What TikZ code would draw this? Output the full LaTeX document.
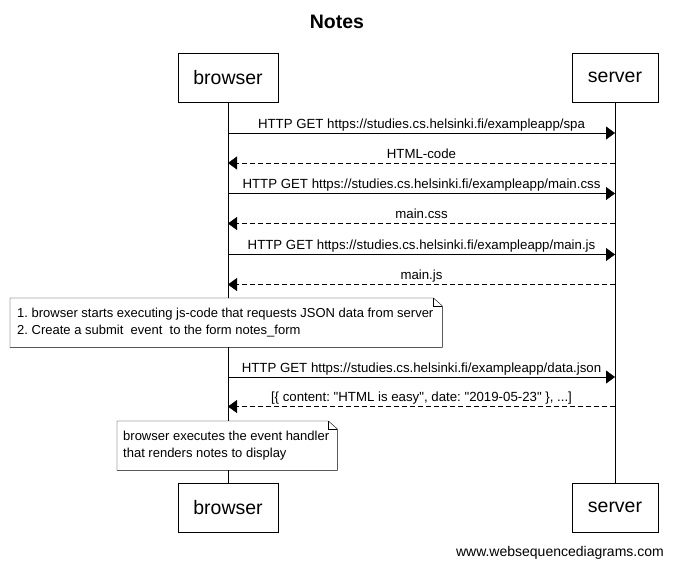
\documentclass[tikz,border=0pt]{standalone}
\usepackage{fontspec}
\setmainfont{Liberation Sans}
\usetikzlibrary{arrows.meta}
\usetikzlibrary{positioning}
\frenchspacing

\tikzset{
  actor/.style={draw, minimum height=49pt, inner sep=0pt, font=\fontsize{19.5}{22}\selectfont},
  msg/.style={-{Triangle[length=9pt,width=13pt]}},
  reply/.style={msg, dash pattern=on 5pt off 3pt},
  msglabel/.style={anchor=base, yshift=5pt, inner sep=0pt, font=\fontsize{13.25}{15}\selectfont},
  note/.style={fill=white, anchor=north west, inner sep=0pt, minimum height=49pt},
  notetext/.style={anchor=west, inner sep=0pt, align=left, font=\fontsize{13}{17}\selectfont}
}

\begin{document}
\begin{tikzpicture}[x=1pt, y=-1pt]
    \useasboundingbox (0,0) rectangle (673,566);

    % Title
    \node[font=\bfseries\fontsize{19.5}{22}\selectfont] (title) at (337,22) {Notes};

    % Actors
    \node[actor, minimum width=100pt] (bt) at (228,77.5) {browser};
    \node[actor, minimum width=86pt]  (st) at (615,77.5) {server};
    \node[actor, minimum width=100pt] (bb) at (228,507.5) {browser};
    \node[actor, minimum width=86pt]  (sb) at (615,507.5) {server};

    % Lifelines
    \draw (bt.south) -- (bb.north);
    \draw (st.south) -- (sb.north);

    % message coordinates on the lifelines
    \foreach \y [count=\i] in {133,163,193.5,223.5,254.5,284.5,377,406.5} {
        \coordinate (b\i) at (228,\y);
        \coordinate (s\i) at (615,\y);
    }

    % Messages
    \draw[msg] (b1) -- node[msglabel] {HTTP GET https://studies.cs.helsinki.fi/exampleapp/spa} (s1);
    \draw[reply] (s2) -- node[msglabel] {HTML-code} (b2);
    \draw[msg] (b3) -- node[msglabel] {HTTP GET https://studies.cs.helsinki.fi/exampleapp/main.css} (s3);
    \draw[reply] (s4) -- node[msglabel] {main.css} (b4);
    \draw[msg] (b5) -- node[msglabel] {HTTP GET https://studies.cs.helsinki.fi/exampleapp/main.js} (s5);
    \draw[reply] (s6) -- node[msglabel] {main.js} (b6);
    \draw[msg] (b7) -- node[msglabel] {HTTP GET https://studies.cs.helsinki.fi/exampleapp/data.json} (s7);
    \draw[reply] (s8) -- node[msglabel]
        {[\{ content: \textquotedbl HTML is easy\textquotedbl, date: \textquotedbl 2019-05-23\textquotedbl\ \}, ...]} (b8);

    % Notes
    \node[note, minimum width=432pt] (n1) at (10,298) {};
    \draw (n1.north west) -- ([xshift=-9pt]n1.north east) -- ([yshift=-8pt]n1.north east)
        -- (n1.south east) -- (n1.south west) -- cycle;
    \draw ([xshift=-9pt]n1.north east) |- ([yshift=-8pt]n1.north east);
    \node[notetext] (t1) at ([xshift=7pt]n1.west)
        {1. browser starts executing js-code that requests JSON data from server\\
         2. Create a submit\ \ event\ \ to the form notes\_form};

    \node[note, minimum width=220pt] (n2) at (117,421) {};
    \draw (n2.north west) -- ([xshift=-9pt]n2.north east) -- ([yshift=-8pt]n2.north east)
        -- (n2.south east) -- (n2.south west) -- cycle;
    \draw ([xshift=-9pt]n2.north east) |- ([yshift=-8pt]n2.north east);
    \node[notetext] (t2) at ([xshift=6pt]n2.west)
        {browser executes the event handler\\
         that renders notes to display};

    % Watermark
    \node[anchor=base east, inner sep=0pt, font=\fontsize{14}{16}\selectfont] (wm) at (664,556)
        {www.websequencediagrams.com};
\end{tikzpicture}
\end{document}
